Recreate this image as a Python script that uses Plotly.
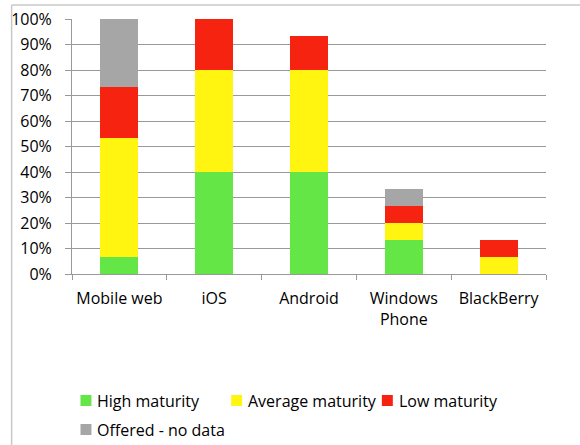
import plotly.graph_objects as go

categories = ["Mobile web", "iOS", "Android", "Windows<br>Phone", "BlackBerry"]
high = [6.67, 40, 40, 13.33, 0]
average = [46.67, 40, 40, 6.67, 6.67]
low = [20, 20, 13.33, 6.67, 6.67]
offered = [26.67, 0, 0, 6.67, 0]

series = [
    ("High maturity", high, "#64E646"),
    ("Average maturity", average, "#FFF510"),
    ("Low maturity", low, "#F5230F"),
    ("Offered - no data", offered, "#A6A6A6"),
]

W, H = 580, 445
L, R, T, B = 71.5, 33.5, 19, 171
pw, ph = W - L - R, H - T - B

def px2x(p):
    return (p - L) / pw

def px2y(p):
    return 1 - (p - T) / ph

fig = go.Figure()
for name, vals, col in series:
    fig.add_trace(go.Bar(x=categories, y=vals, name=name,
                         marker=dict(color=col, line=dict(width=0))))

# legend (drawn manually to match the original layout)
legend_pos = [(80, 400.5), (231, 400.5), (382, 400.5), (80, 429.5)]
shapes = []
annotations = []
for (name, vals, col), (lx, ly) in zip(series, legend_pos):
    shapes.append(dict(type="rect", xref="paper", yref="paper",
                       x0=px2x(lx), x1=px2x(lx + 11), y0=px2y(ly - 5.5), y1=px2y(ly + 5.5),
                       fillcolor=col, line=dict(width=0)))
    annotations.append(dict(text=name, xref="paper", yref="paper", x=px2x(lx + 15), y=px2y(ly),
                            xanchor="left", yanchor="middle", showarrow=False,
                            font=dict(size=16, color="#000000")))

shapes += [
    dict(type="line", xref="paper", yref="paper", x0=px2x(11), x1=px2x(11), y0=px2y(5), y1=px2y(460),
         line=dict(color="#c8c8c8", width=1.5)),
    dict(type="line", xref="paper", yref="paper", x0=px2x(11), x1=px2x(600), y0=px2y(5), y1=px2y(5),
         line=dict(color="#c8c8c8", width=1.5)),
]

fig.update_layout(
    width=W, height=H,
    margin=dict(l=L, r=R, t=T, b=B, pad=0),
    barmode="stack", bargap=0.6,
    plot_bgcolor="white", paper_bgcolor="white",
    font=dict(family="Open Sans", size=16, color="#000000"),
    showlegend=False,
    xaxis=dict(showline=True, linecolor="#999999", linewidth=1, ticks="outside", tickson="boundaries",
               ticklen=5, tickcolor="#999999", showgrid=False, tickfont=dict(size=16),
               tickangle=0, ticklabelstandoff=10, automargin=False),
    yaxis=dict(range=[0, 100], dtick=10, ticksuffix="%", showline=True, linecolor="#999999",
               ticks="outside", ticklen=6, tickcolor="#999999", gridcolor="#999999", gridwidth=1,
               zeroline=False, tickfont=dict(size=16), ticklabelstandoff=10, automargin=False),
    shapes=shapes,
    annotations=annotations,
)

fig.write_html("out.html")
